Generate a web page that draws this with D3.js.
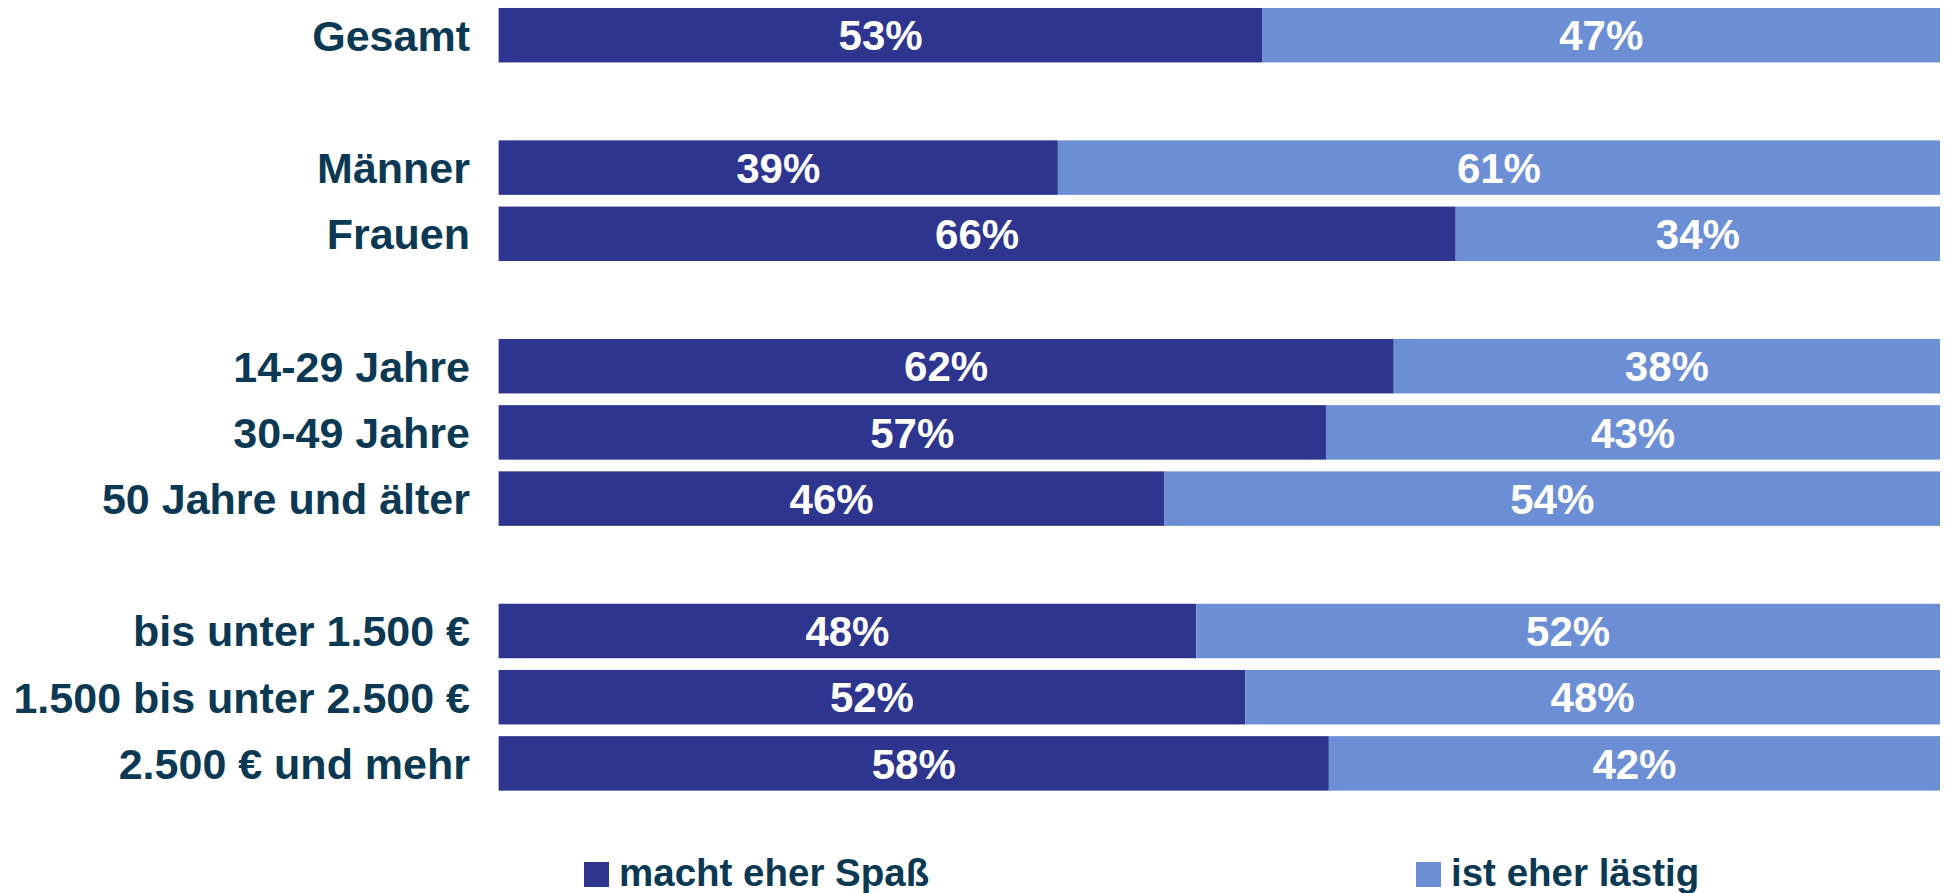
<!DOCTYPE html>
<html>
<head>
<meta charset="utf-8">
<script src="https://cdn.jsdelivr.net/npm/d3@7"></script>
<style>
  html, body { margin: 0; padding: 0; background: #fff; }
  svg text { font-family: "Liberation Sans", Arial, sans-serif; font-weight: bold; }
</style>
</head>
<body>
<div id="chart"></div>
<script>
// categories (null = empty spacer row)
var categories = ["Gesamt", null, "Männer", "Frauen", null,
  "14-29 Jahre", "30-49 Jahre", "50 Jahre und älter", null,
  "bis unter 1.500 €", "1.500 bis unter 2.500 €", "2.500 € und mehr"];
var spass   = [53.0, null, 38.8, 66.4, null, 62.1, 57.4, 46.2, null, 48.4, 51.8, 57.6];
var laestig = [47.0, null, 61.2, 33.6, null, 37.9, 42.6, 53.8, null, 51.6, 48.2, 42.4];
var seriesNames = ["macht eher Spaß", "ist eher lästig"];
var colors = ["#2e358e", "#6c8ed4"];

var width = 1945, height = 893;
var x0 = 498.6, x1 = 1940;
var step = 66.2, top0 = 2.1;

var keys = categories.map((c, i) => "r" + i);

var svg = d3.select("#chart").append("svg")
  .attr("width", width)
  .attr("height", height);

var xScale = d3.scaleLinear().domain([0, 100]).range([x0, x1]);
var yScale = d3.scaleBand().domain(keys)
  .range([top0, top0 + step * keys.length])
  .paddingInner(0.177).paddingOuter(0.0885);

var rows = categories.map((c, i) => ({key: keys[i], label: c, a: spass[i], b: laestig[i]}))
  .filter(d => d.label !== null);

// category labels
svg.selectAll(".cat")
  .data(rows)
  .enter().append("text")
  .attr("class", "cat")
  .attr("x", 470)
  .attr("y", d => yScale(d.key) + yScale.bandwidth() / 2)
  .attr("dy", "0.36em")
  .attr("text-anchor", "end")
  .style("font-size", "43px")
  .style("fill", "#0b3954")
  .text(d => d.label);

var row = svg.selectAll(".row")
  .data(rows)
  .enter().append("g")
  .attr("class", "row")
  .attr("transform", d => `translate(0,${yScale(d.key)})`);

/* dark segment */
row.append("rect")
  .attr("x", xScale(0))
  .attr("y", 0)
  .attr("width", d => xScale(d.a) - xScale(0))
  .attr("height", yScale.bandwidth())
  .style("fill", colors[0]);

/* light segment */
row.append("rect")
  .attr("x", d => xScale(d.a))
  .attr("y", 0)
  .attr("width", d => xScale(d.a + d.b) - xScale(d.a))
  .attr("height", yScale.bandwidth())
  .style("fill", colors[1]);

row.append("text")
  .attr("x", d => (xScale(0) + xScale(d.a)) / 2)
  .attr("y", yScale.bandwidth() / 2)
  .attr("dy", "0.36em")
  .attr("text-anchor", "middle")
  .style("font-size", "42px")
  .style("fill", "#fff")
  .text(d => Math.round(d.a) + "%");

row.append("text")
  .attr("x", d => (xScale(d.a) + xScale(d.a + d.b)) / 2)
  .attr("y", yScale.bandwidth() / 2)
  .attr("dy", "0.36em")
  .attr("text-anchor", "middle")
  .style("font-size", "42px")
  .style("fill", "#fff")
  .text(d => Math.round(d.b) + "%");

// legend
var legendX = [584, 1416];
var legend = svg.selectAll(".legend")
  .data(seriesNames)
  .enter().append("g")
  .attr("class", "legend")
  .attr("transform", (d, i) => `translate(${legendX[i]},862)`);

legend.append("rect")
  .attr("width", 25)
  .attr("height", 25)
  .style("fill", (d, i) => colors[i]);

legend.append("text")
  .attr("x", 35)
  .attr("y", 24)
  .style("font-size", "38.5px")
  .style("fill", "#0b3954")
  .text(d => d);
</script>
</body>
</html>
